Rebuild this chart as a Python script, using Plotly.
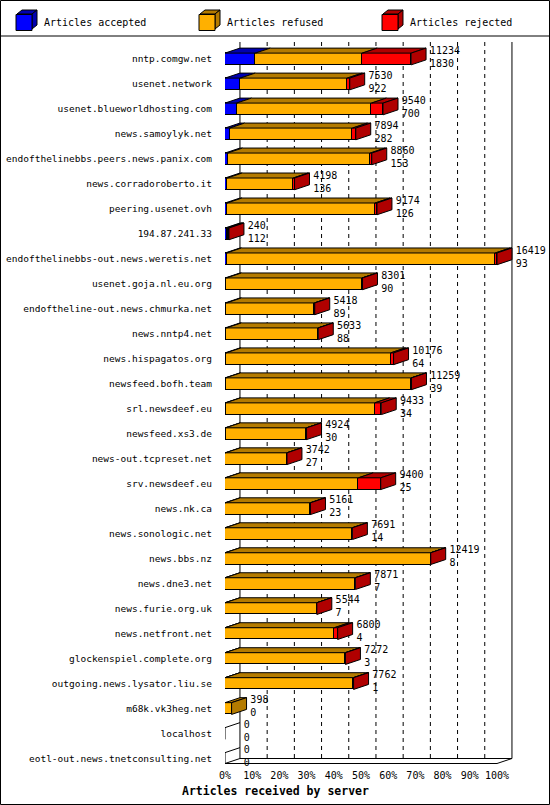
import plotly.graph_objects as go

# innreport style: articles received by server (sorted by accepted)
servers = ["nntp.comgw.net", "usenet.network", "usenet.blueworldhosting.com",
           "news.samoylyk.net", "endofthelinebbs.peers.news.panix.com",
           "news.corradoroberto.it", "peering.usenet.ovh", "194.87.241.33",
           "endofthelinebbs-out.news.weretis.net", "usenet.goja.nl.eu.org",
           "endoftheline-out.news.chmurka.net", "news.nntp4.net",
           "news.hispagatos.org", "newsfeed.bofh.team", "srl.newsdeef.eu",
           "newsfeed.xs3.de", "news-out.tcpreset.net", "srv.newsdeef.eu",
           "news.nk.ca", "news.sonologic.net", "news.bbs.nz", "news.dne3.net",
           "news.furie.org.uk", "news.netfront.net", "glockenspiel.complete.org",
           "outgoing.news.lysator.liu.se", "m68k.vk3heg.net", "localhost",
           "eotl-out.news.tnetconsulting.net"]
total = [11234, 7530, 9540, 7894, 8860, 4198, 9174, 240, 16419, 8301,
         5418, 5633, 10176, 11259, 9433, 4924, 3742, 9400, 5161, 7691,
         12419, 7871, 5544, 6800, 7272, 7762, 398, 0, 0]
accepted = [1830, 922, 700, 282, 153, 136, 126, 112, 93, 90,
            89, 88, 64, 39, 34, 30, 27, 25, 23, 14,
            8, 7, 7, 4, 3, 1, 0, 0, 0]
# rejected counts estimated from the red segment widths
rejected = [2950, 150, 700, 200, 90, 80, 110, 58, 100, 30,
            20, 20, 180, 20, 400, 15, 15, 1350, 20, 10,
            10, 10, 5, 200, 10, 10, 0, 0, 0]
refused = [t - a - r for t, a, r in zip(total, accepted, rejected)]

front = {"accepted": "#0000FF", "refused": "#FFB000", "rejected": "#FF0000"}
dark = {"accepted": "#0000B0", "refused": "#B47B00", "rejected": "#B00000"}
mono = "DejaVu Sans Mono"

scale = 100.0 / max(total)
rows = list(range(len(servers)))
DX, DY, H = 5.5, 0.2, 0.235   # 3D depth (x in %, y in rows), half bar height

fig = go.Figure()

series = [("accepted", accepted), ("refused", refused), ("rejected", rejected)]
for key, vals in series:
    fig.add_trace(go.Bar(
        y=rows, x=[v * scale for v in vals], orientation="h", width=2 * H,
        marker=dict(color=front[key], line=dict(color="black", width=1)),
        showlegend=False, hoverinfo="skip"))

# top faces and end faces, built from the data
tops = {k: ([], []) for k in front}
sides = {k: ([], []) for k in front}
edges_x, edges_y = [], []
for i in rows:
    x0 = 0.0
    last = None
    for key, vals in series:
        w = vals[i] * scale
        if w <= 0:
            continue
        x1 = x0 + w
        xs, ys = tops[key]
        xs += [x0, x1, x1 + DX, x0 + DX, x0, None]
        ys += [i - H, i - H, i - H - DY, i - H - DY, i - H, None]
        x0 = x1
        last = key
    if last is None:
        edges_x += [0, DX, None, 0, 0, None]
        edges_y += [i - H, i - H - DY, None, i - H, i + H, None]
        continue
    xs, ys = sides[last]
    xs += [x0, x0 + DX, x0 + DX, x0, x0, None]
    ys += [i - H, i - H - DY, i + H - DY, i + H, i - H, None]

for group in (tops, sides):
    for key in front:
        xs, ys = group[key]
        if not xs:
            continue
        fig.add_trace(go.Scatter(
            x=xs, y=ys, mode="lines", fill="toself", fillcolor=dark[key],
            line=dict(color="black", width=1), showlegend=False,
            hoverinfo="skip"))

fig.add_trace(go.Scatter(x=edges_x, y=edges_y, mode="lines",
                         line=dict(color="black", width=1),
                         showlegend=False, hoverinfo="skip"))

# back wall, grid and floor
top_y = -0.68
fb = len(servers) - 0.8          # floor, front edge
back = fb - DY                   # floor, back edge
ticks = list(range(0, 101, 10))
for t in ticks[1:-1]:
    fig.add_shape(type="line", x0=t + DX, x1=t + DX, y0=top_y, y1=back,
                  line=dict(color="black", width=1, dash="4px,4px"), layer="below")
for t in (0, 100):
    fig.add_shape(type="line", x0=t + DX, x1=t + DX, y0=top_y, y1=back,
                  line=dict(color="black", width=1), layer="below")
fig.add_trace(go.Scatter(
    x=[-DX, 0, 100, 100 + DX, DX, 0], y=[fb + DY, fb, fb, back, back, fb],
    mode="lines", line=dict(color="black", width=1), showlegend=False,
    hoverinfo="skip", cliponaxis=False))

# value labels: total and accepted
fig.add_trace(go.Scatter(
    x=[t * scale + DX + 1.4 for t in total], y=[i - 0.05 for i in rows],
    text=[f"{t}<br>{a}" for t, a in zip(total, accepted)],
    mode="text", textposition="middle right",
    textfont=dict(family=mono, size=10, color="black"),
    showlegend=False, hoverinfo="skip", cliponaxis=False))

# legend entries
labels = {"accepted": "Articles accepted", "refused": "Articles refused",
          "rejected": "Articles rejected"}
for key in front:
    fig.add_trace(go.Scatter(
        x=[None], y=[None], mode="markers", name=labels[key],
        marker=dict(symbol="square", size=16, color=front[key],
                    line=dict(color="black", width=1))))

L, R, T, B = 225, 0, 42, 41
PXPCT = 2.72                     # pixels per percent
pw, ph = 550 - L - R, 805 - T - B
px = lambda p: (p - L) / pw
py = lambda p: 1 + (T - p) / ph

fig.add_shape(type="rect", xref="paper", yref="paper",
              x0=px(0.5), x1=px(549.5), y0=py(0.5), y1=py(804.5),
              line=dict(color="black", width=1))
fig.add_shape(type="line", xref="paper", yref="paper",
              x0=px(0.5), x1=px(549.5), y0=py(36), y1=py(36),
              line=dict(color="black", width=1))

# 3D sides for the legend squares
def poly(pts):
    return "M" + " L".join(f"{px(a):.5f},{py(b):.5f}" for a, b in pts) + " Z"

for key, lx in zip(front, (17, 200, 383)):
    s0, s1, yt, yb = lx, lx + 15, 14, 29
    fig.add_shape(type="path", xref="paper", yref="paper",
                  path=poly([(s0, yt), (s1, yt), (s1 + 5, yt - 4), (s0 + 5, yt - 4)]),
                  fillcolor=dark[key], line=dict(color="black", width=1))
    fig.add_shape(type="path", xref="paper", yref="paper",
                  path=poly([(s1, yt), (s1 + 5, yt - 4), (s1 + 5, yb - 4), (s1, yb)]),
                  fillcolor=dark[key], line=dict(color="black", width=1))

fig.add_annotation(xref="paper", yref="paper", x=px(275), y=py(791),
                   xanchor="center", yanchor="middle",
                   text="<b>Articles received by server</b>", showarrow=False,
                   font=dict(family=mono, size=11.5, color="black"))

fig.update_layout(
    width=550, height=805,
    margin=dict(l=L, r=R, t=T, b=B, autoexpand=False),
    barmode="stack", bargap=0,
    plot_bgcolor="white", paper_bgcolor="white",
    font=dict(family=mono, size=10, color="black"),
    legend=dict(orientation="h", x=px(4), y=py(8), xanchor="left", yanchor="top",
                entrywidth=138, entrywidthmode="pixels", traceorder="normal",
                font=dict(family=mono, size=10), bgcolor="rgba(0,0,0,0)"),
    xaxis=dict(range=[0, pw / PXPCT], tickvals=ticks, ticktext=[f"{t}%" for t in ticks],
               showgrid=False, zeroline=False, showline=False, ticks="",
               ticklabelstandoff=4,
               tickfont=dict(family=mono, size=10), fixedrange=True,
               automargin=False),
    yaxis=dict(range=[fb + 0.02, top_y], tickvals=rows, ticktext=servers,
               showgrid=False, zeroline=False, showline=False, ticks="",
               ticklabelstandoff=12, tickfont=dict(family=mono, size=9.5),
               fixedrange=True, automargin=False),
)

fig.write_html("out.html", config={"displayModeBar": False},
               post_script="document.body.style.margin='0';")
